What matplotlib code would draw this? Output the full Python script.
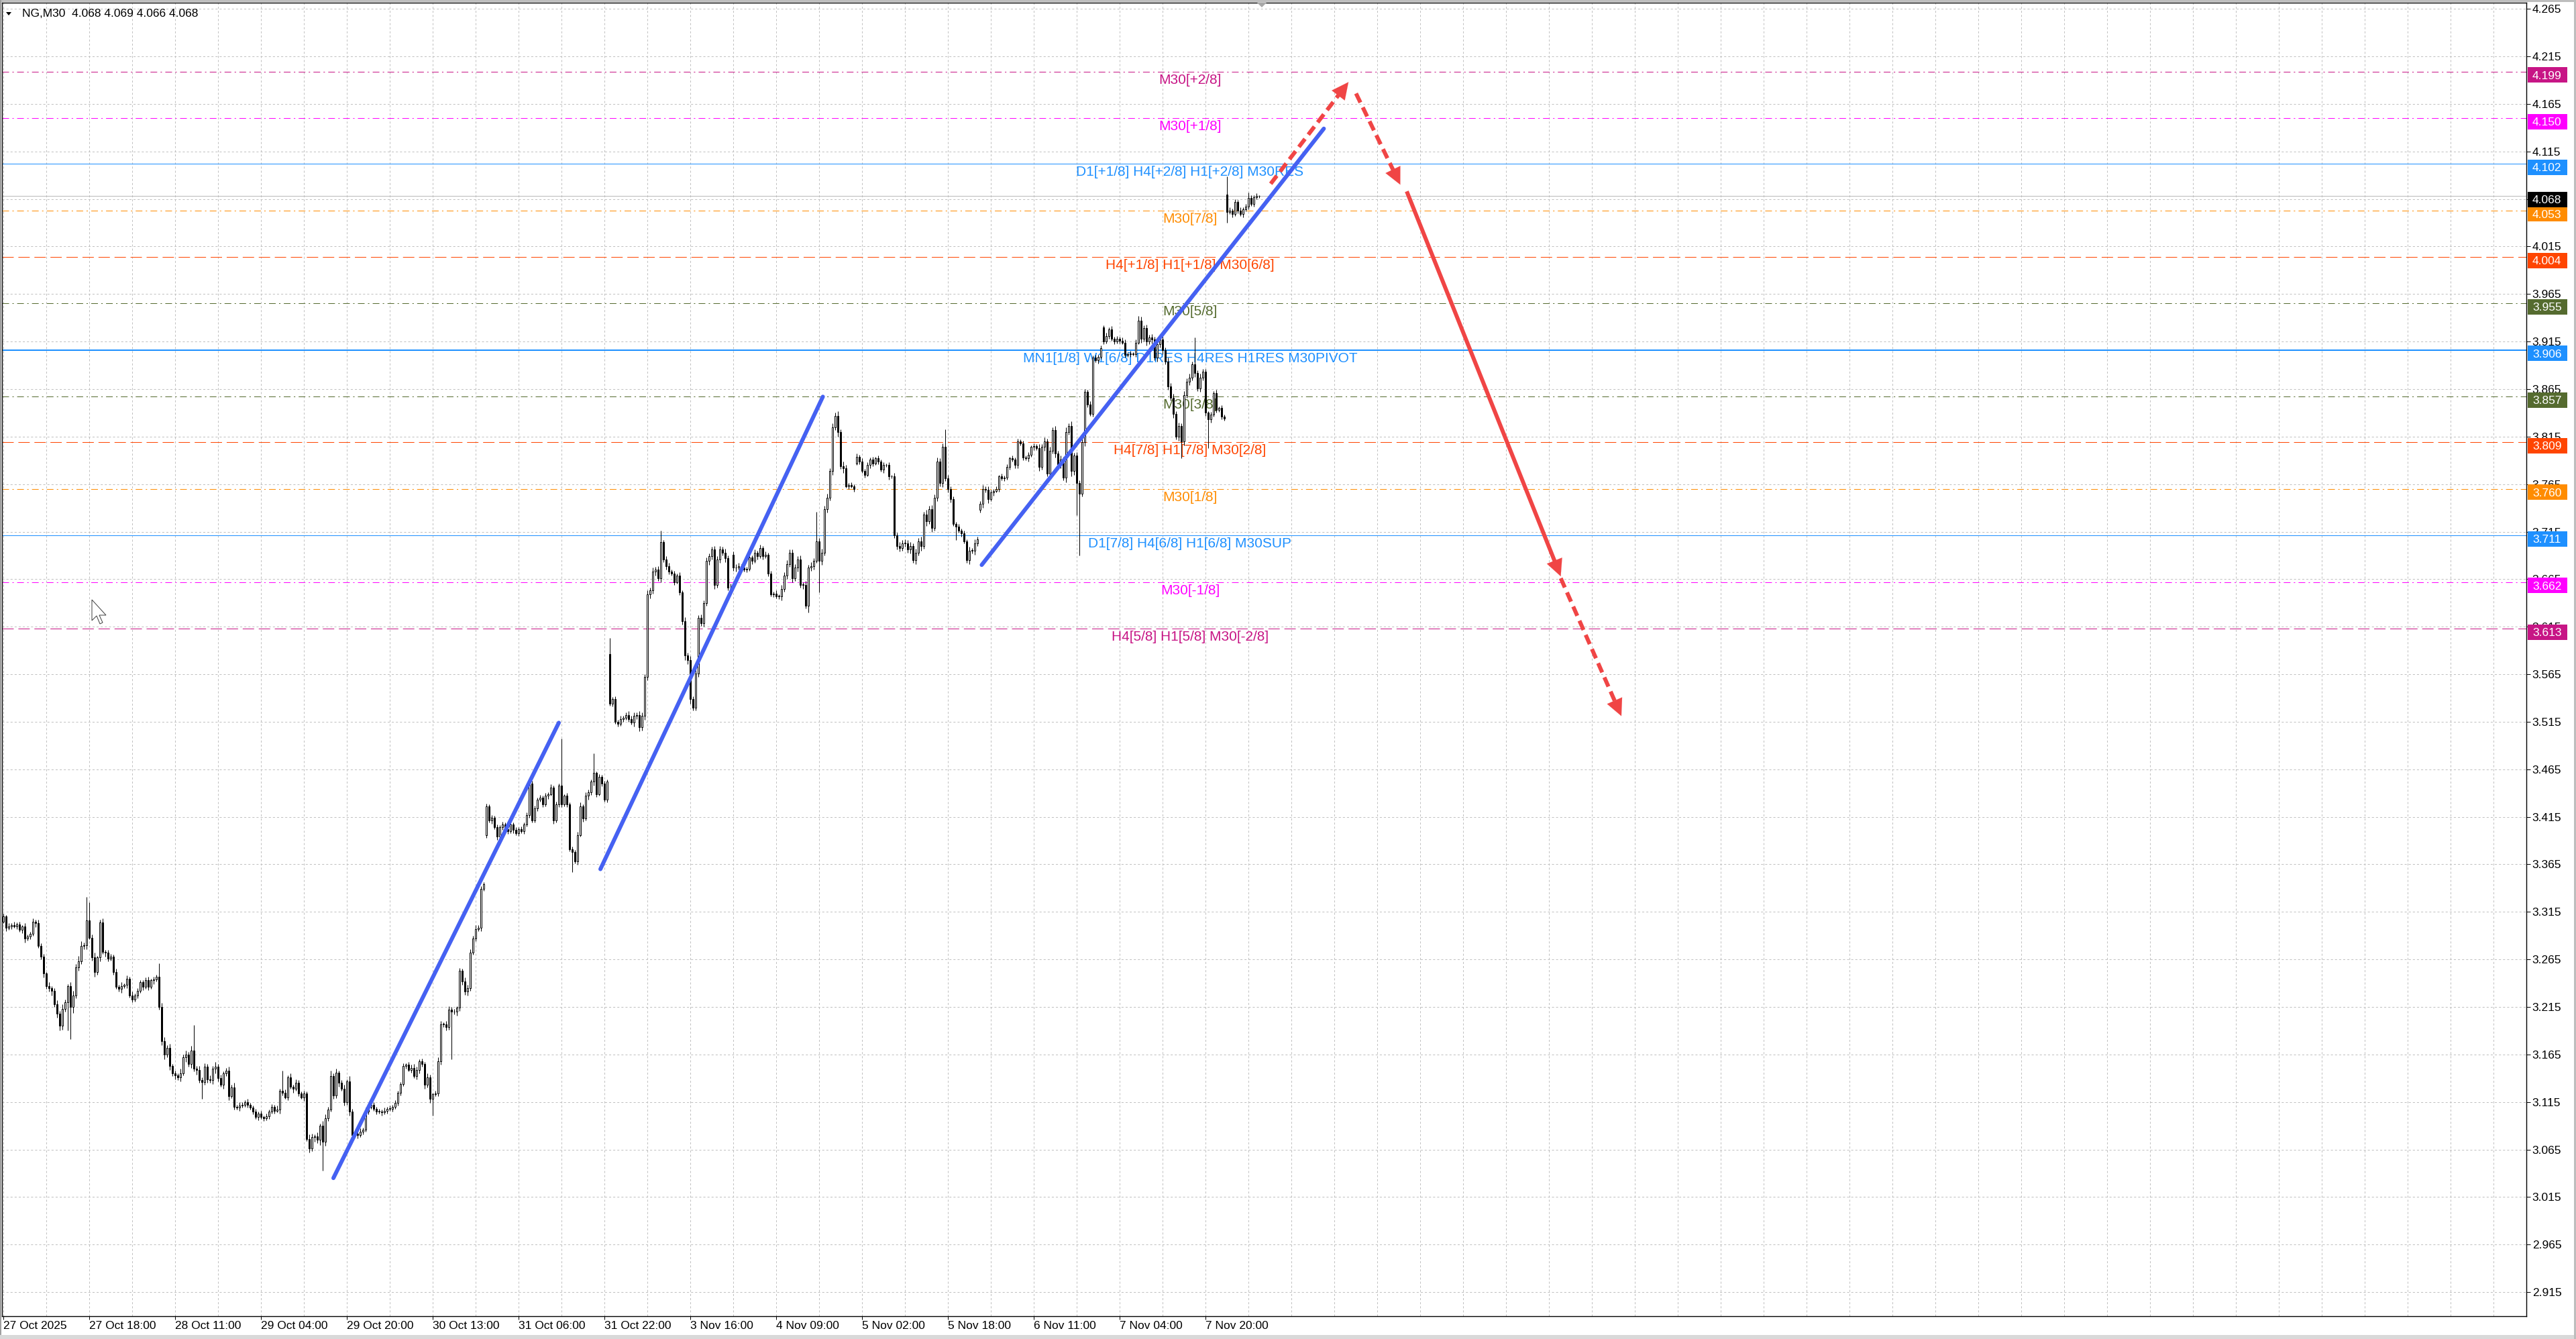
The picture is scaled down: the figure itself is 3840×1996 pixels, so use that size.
import numpy as np
import matplotlib
matplotlib.use("Agg")
from matplotlib import pyplot as plt
from matplotlib.patches import Rectangle, Polygon
from matplotlib.transforms import blended_transform_factory

# NG M30 candles, closes in thousandths, one list per stretch of the chart
closes_oct27_29 = [
    3310, 3298, 3300, 3301, 3300, 3302, 3296, 3300, 3287, 3289,
    3292, 3305, 3303, 3279, 3268, 3250, 3237, 3235, 3232, 3218,
    3208, 3195, 3213, 3220, 3237, 3215, 3227, 3257, 3263, 3279,
    3280, 3306, 3288, 3267, 3252, 3267, 3304, 3273, 3272, 3266,
    3268, 3252, 3236, 3234, 3237, 3238, 3245, 3227, 3223, 3227,
    3232, 3241, 3236, 3243, 3236, 3243, 3244, 3247, 3215, 3179,
    3165, 3172, 3153, 3145, 3143, 3141, 3145, 3162, 3165, 3155,
    3169, 3150, 3149, 3138, 3136, 3152, 3139, 3138, 3150, 3152,
    3140, 3133, 3145, 3148, 3121, 3130, 3110, 3109, 3111, 3112,
    3115, 3112, 3109, 3105, 3099, 3103, 3099, 3098, 3100, 3105,
    3110, 3106, 3107, 3127, 3125, 3120, 3141, 3131, 3129, 3135,
    3124, 3120, 3124, 3076, 3066, 3078, 3079, 3075, 3090, 3073,
    3098, 3107, 3142, 3122, 3146, 3135, 3129, 3115, 3137, 3105,
    3080, 3082, 3080, 3084, 3086, 3105, 3110, 3112]
closes_oct29_nov3 = [
    3108, 3105, 3105, 3104, 3106, 3108, 3108, 3110, 3114, 3125,
    3134, 3153, 3154, 3149, 3151, 3142, 3149, 3158, 3155, 3133,
    3141, 3118, 3123, 3124, 3158, 3197, 3197, 3194, 3212, 3210,
    3210, 3214, 3253, 3242, 3231, 3235, 3272, 3287, 3297, 3298,
    3339, 3344, 3426, 3411, 3414, 3404, 3394, 3404, 3407, 3402,
    3400, 3407, 3401, 3398, 3402, 3400, 3407, 3417, 3450, 3411,
    3424, 3433, 3435, 3428, 3437, 3439, 3446, 3411, 3428, 3448,
    3428, 3437, 3428, 3381, 3378, 3368, 3396, 3426, 3413, 3437,
    3441, 3452, 3461, 3439, 3457, 3450, 3433, 3452, 3534, 3539,
    3515, 3513, 3518, 3519, 3522, 3518, 3514, 3521, 3522, 3509,
    3521, 3562, 3649, 3653, 3673, 3675, 3666, 3704, 3686, 3679,
    3673, 3671, 3662, 3669, 3651, 3621]
closes_nov3_5 = [
    3585, 3580, 3539, 3530, 3566, 3624, 3619, 3640, 3684, 3689,
    3696, 3659, 3686, 3696, 3693, 3687, 3656, 3656, 3677, 3677,
    3679, 3677, 3675, 3676, 3688, 3684, 3693, 3689, 3698, 3689,
    3691, 3671, 3649, 3650, 3647, 3647, 3655, 3669, 3681, 3693,
    3666, 3677, 3686, 3659, 3659, 3637, 3677, 3679, 3684, 3705,
    3684, 3693, 3739, 3751, 3779, 3825, 3837, 3820, 3784, 3782,
    3763, 3764, 3763, 3760, 3794, 3789, 3779, 3775, 3785, 3791,
    3787, 3792, 3789, 3780, 3785, 3785, 3773, 3773, 3711, 3700,
    3698, 3703, 3703, 3696, 3700, 3685, 3693, 3705, 3700, 3733,
    3726, 3739, 3719, 3751, 3789, 3766, 3804, 3771, 3760, 3749,
    3723, 3720, 3716, 3713, 3705, 3685, 3695, 3695, 3703, 3707,
    3744, 3760, 3759, 3749]
closes_nov5_7 = [
    3756, 3758, 3760, 3773, 3771, 3772, 3783, 3792, 3791, 3785,
    3810, 3808, 3793, 3792, 3796, 3804, 3805, 3803, 3783, 3804,
    3810, 3776, 3800, 3822, 3797, 3786, 3791, 3772, 3820, 3826,
    3779, 3795, 3766, 3755, 3809, 3862, 3849, 3839, 3898, 3895,
    3899, 3908, 3915, 3921, 3928, 3918, 3915, 3918, 3916, 3914,
    3901, 3902, 3902, 3902, 3914, 3937, 3918, 3929, 3915, 3919,
    3917, 3898, 3912, 3917, 3906, 3894, 3868, 3856, 3839, 3815,
    3826, 3810, 3859, 3873, 3877, 3891, 3882, 3866, 3877, 3883,
    3840, 3833, 3838, 3861, 3843, 3845, 3836, 3834]
closes_nov10 = [4051, 4053, 4049, 4062, 4053, 4049, 4054, 4057, 4066, 4060, 4067, 4068, 4068]

# upper / lower wick lengths in thousandths, one digit per candle
wick_up = ("3232423132" "2324332423" "4353245365" "3423523423" "3232423242" "3223423254"
           "4342325343" "5434343435" "3423435243" "2322323232" "3242332424" "3232542425"
           "4353423425" "33232422"
           "3232323232" "2323343232" "4323432343" "3232434343" "3232323232" "4323232323"
           "3232323232" "4232323424" "3232323232" "3232343434" "4343434323" "323232"
           "4343434343" "3434343434" "3232323232" "3232324343" "3434343432" "3434343535"
           "3232323232" "3232323243" "4343434353" "5343434343" "3232324343" "3434"
           "3232323232" "3232323243" "4343434353" "5343432323" "2323232323" "3232324343"
           "4343434343" "4343434343" "32323232"
           "2323232323231")
wick_dn = ("2323232342" "3242343453" "4543526343" "3423534243" "2323423232" "3232324234"
           "5343434253" "4353434345" "3243423232" "2323232323" "2324323242" "3242435353"
           "4324342434" "32323232"
           "2323232323" "3232323434" "3432343432" "3434343232" "3232323232" "3232323232"
           "2323232323" "3232423232" "4343232323" "2323232434" "3434343434" "323234"
           "5454343434" "3434343434" "2323232323" "2323234343" "4343434342" "3434343535"
           "2323232323" "3232323234" "4343434353" "5343434343" "2323234343" "3434"
           "2323232323" "3232323243" "4343434353" "6464343232" "3232323232" "3232324343"
           "4343434343" "4343434343" "32323232"
           "3232323232322")
long_highs = {31: 3331, 32: 3325, 58: 3261, 71: 3196, 104: 3148, 122: 3148, 208: 3497,
              220: 3482, 226: 3603, 245: 3716, 303: 3736, 310: 3840, 351: 3823,
              423: 3942, 444: 3919, 456: 4089, 464: 4072}
long_lows = {24: 3190, 25: 3181, 74: 3118, 119: 3043, 160: 3101, 167: 3160, 212: 3357,
             257: 3527, 300: 3630, 304: 3651, 355: 3706, 400: 3732, 401: 3690,
             439: 3792, 449: 3803, 456: 4040}
first_open = 3305
session_opens = {180: 3396, 226: 3586, 272: 3691, 318: 3787, 364: 3738, 410: 3930, 456: 4070}

date_labels = ["27 Oct 2025", "27 Oct 18:00", "28 Oct 11:00", "29 Oct 04:00", "29 Oct 20:00",
               "30 Oct 13:00", "31 Oct 06:00", "31 Oct 22:00", "3 Nov 16:00", "4 Nov 09:00",
               "5 Nov 02:00", "5 Nov 18:00", "6 Nov 11:00", "7 Nov 04:00", "7 Nov 20:00"]
bars_per_label = 32

# Murrey math levels drawn on the chart
levels = [4.199, 4.150, 4.102, 4.053, 4.004, 3.955, 3.906, 3.857, 3.809, 3.760, 3.711, 3.662, 3.613]
level_names = ["M30[+2/8]", "M30[+1/8]", "D1[+1/8] H4[+2/8] H1[+2/8] M30RES", "M30[7/8]",
               "H4[+1/8] H1[+1/8] M30[6/8]", "M30[5/8]",
               "MN1[1/8] W1[6/8] D1RES H4RES H1RES M30PIVOT", "M30[3/8]",
               "H4[7/8] H1[7/8] M30[2/8]", "M30[1/8]", "D1[7/8] H4[6/8] H1[6/8] M30SUP",
               "M30[-1/8]", "H4[5/8] H1[5/8] M30[-2/8]"]
level_colors = ["#C71585", "#FF00FF", "#1E90FF", "#FF8C00", "#FF4500", "#556B2F", "#1E90FF",
                "#556B2F", "#FF4500", "#FF8C00", "#1E90FF", "#FF00FF", "#C71585"]
level_styles = ["dashdot", "dashdot", "solid", "dashdot", "dash", "dashdot", "solid",
                "dashdot", "dash", "dashdot", "solid", "dashdot", "dash"]
level_widths = [1, 1, 1, 1, 1, 1, 2, 1, 1, 1, 1, 1, 1]
label_bar = 442.25
current_price = 4.068

# trend lines and projected path (bar index, price)
blue_lines = [((123.0, 3.035), (207.0, 3.514)),
              ((222.5, 3.360), (305.4, 3.857)),
              ((364.6, 3.680), (492.1, 4.139))]
red_arrows = [((472.3, 4.081), (501.3, 4.188), "dashed"),
              ((504.1, 4.176), (520.6, 4.080), "dashed"),
              ((523.0, 4.073), (580.4, 3.668), "solid"),
              ((580.4, 3.666), (603.0, 3.521), "dashed")]

W, H = 3840, 1996
PX = 0.72  # one pixel in points at dpi 100
PX_PER_BAR = 4.0
PX_PER_UNIT = 1417.0

plt.rcParams["font.family"] = ["Liberation Sans", "DejaVu Sans"]
plt.rcParams["lines.scale_dashes"] = False

DASH = {"solid": "-", "dash": (0, (12.2, 5.0)), "dashdot": (0, (7.2, 3.6, 1.5, 3.6))}


def fx(px):
    return px / W


def fy(py):
    return 1 - py / H


# point that lies p_back pixels before the end of a segment
def back_off(x0, y0, x1, y1, p_back):
    dxp = (x1 - x0) * PX_PER_BAR
    dyp = (y1 - y0) * PX_PER_UNIT
    length = np.hypot(dxp, dyp)
    f = max(0.0, 1 - p_back / length)
    return x0 + (x1 - x0) * f, y0 + (y1 - y0) * f


closes = np.array(closes_oct27_29 + closes_oct29_nov3 + closes_nov3_5 + closes_nov5_7 + closes_nov10) / 1000.0
n = len(closes)
opens = np.r_[first_open / 1000.0, closes[:-1]]
for b, o in session_opens.items():
    opens[b] = o / 1000.0
up = np.array([int(c) for c in wick_up[:n]]) / 1000.0
dn = np.array([int(c) for c in wick_dn[:n]]) / 1000.0
highs = np.maximum(opens, closes) + up
lows = np.minimum(opens, closes) - dn
for b, v in long_highs.items():
    highs[b] = v / 1000.0
for b, v in long_lows.items():
    lows[b] = v / 1000.0

fig = plt.figure(figsize=(W / 100, H / 100), dpi=100, facecolor="white")
ax = fig.add_axes([fx(3), fy(1962), (3766 - 3) / W, (1962 - 4) / H])
ax.set_facecolor("white")
ax.set_xlim((3 - 5) / PX_PER_BAR, (3766 - 5) / PX_PER_BAR)
ax.set_ylim(4.265 - (1962 - 13.2) / PX_PER_UNIT, 4.265 + (13.2 - 4) / PX_PER_UNIT)

# grid
yticks = [round(4.265 - 0.05 * k, 3) for k in range(28)]
xticks = list(range(0, bars_per_label * len(date_labels), bars_per_label))
grid_style = (0, (2.2, 2.2))
for b in range(0, 941, bars_per_label // 2):
    ax.axvline(b, color="#C0C0C0", lw=PX, ls=grid_style, zorder=0.5)
for p in yticks:
    ax.axhline(p, color="#C0C0C0", lw=PX, ls=grid_style, zorder=0.5)

# levels
for p, name, col, st, w in zip(levels, level_names, level_colors, level_styles, level_widths):
    ax.axhline(p, color=col, lw=w * PX, ls=DASH[st], zorder=1)
    ax.text(label_bar, p - 3 / PX_PER_UNIT, name, color=col, fontsize=15,
            ha="center", va="top", zorder=2)
ax.axhline(current_price, color="#B8B8B8", lw=PX, zorder=1)

# candles
x = np.arange(n)
ax.vlines(x, lows, highs, color="black", lw=PX, zorder=3)
bull = closes >= opens
bottoms = np.minimum(opens, closes)
heights = np.maximum(np.abs(closes - opens), 0.0004)
ax.bar(x[bull], heights[bull], bottom=bottoms[bull], width=0.62, color="white",
       edgecolor="black", linewidth=PX, zorder=3.1)
ax.bar(x[~bull], heights[~bull], bottom=bottoms[~bull], width=0.62, color="black",
       edgecolor="black", linewidth=PX, zorder=3.1)

# trend lines
for (x0, y0), (x1, y1) in blue_lines:
    ax.plot([x0, x1], [y0, y1], color="#4561F2", lw=6 * PX, solid_capstyle="round", zorder=4)

# projected path
red = "#F04545"
for (x0, y0), (x1, y1), st in red_arrows:
    xs, ys = back_off(x0, y0, x1, y1, 14)
    ls = "-" if st == "solid" else (0, (10.8, 5.8))
    ax.plot([x0, xs], [y0, ys], color=red, lw=6 * PX, ls=ls, solid_capstyle="butt",
            dash_capstyle="butt", zorder=4.5)
    xb, yb = back_off(x0, y0, x1, y1, 30)
    ax.annotate("", xy=(x1, y1), xytext=(xb, yb),
                arrowprops=dict(arrowstyle="-|>,head_length=0.45,head_width=0.22",
                                color=red, lw=0.1, shrinkA=0, shrinkB=0,
                                mutation_scale=40),
                zorder=4.6)

# axes decoration
for s in ax.spines.values():
    s.set_color("black")
    s.set_linewidth(1.4 * PX)
ax.yaxis.tick_right()
ax.set_yticks(yticks)
ax.set_yticklabels([f"{v:.3f}" for v in yticks])
ax.tick_params(axis="y", right=True, left=False, length=4.3, width=PX, pad=2,
               labelsize=12.5, colors="black")
ax.set_xticks(xticks)
ax.set_xticklabels(date_labels, ha="left")
ax.tick_params(axis="x", length=3.5, width=PX, pad=1.5, labelsize=12.5, colors="black")

# price tags on the right scale
tag_tr = blended_transform_factory(ax.transAxes, ax.transData)
tag_prices = levels + [current_price]
tag_colors = level_colors + ["black"]
axw = 3766 - 3
for p, col in zip(tag_prices, tag_colors):
    yc = p - 5 / PX_PER_UNIT
    ax.add_patch(Rectangle(((3768 - 3) / axw, yc - 11.5 / PX_PER_UNIT), 59 / axw, 23 / PX_PER_UNIT,
                           transform=tag_tr, facecolor=col, edgecolor="none",
                           clip_on=False, zorder=5))
    ax.text((3775 - 3) / axw, yc, f"{p:.3f}", transform=tag_tr, color="white",
            fontsize=12.5, ha="left", va="center_baseline", clip_on=False, zorder=6)

# header
fig.text(fx(33), fy(25), "NG,M30  4.068 4.069 4.066 4.068", fontsize=12.5, va="baseline")
fig.patches.append(Polygon([(fx(9), fy(18)), (fx(17), fy(18)), (fx(13), fy(23))],
                           closed=True, transform=fig.transFigure, facecolor="black",
                           edgecolor="none"))
fig.patches.append(Polygon([(fx(1874), fy(4)), (fx(1888), fy(4)), (fx(1881), fy(11))],
                           closed=True, transform=fig.transFigure, facecolor="#A8A8A8",
                           edgecolor="none", zorder=10))

# mouse pointer
cursor = [(137, 894), (137, 925), (144, 918), (149, 930), (153, 928), (148, 917), (158, 917)]
fig.patches.append(Polygon([(fx(a), fy(b)) for a, b in cursor], closed=True,
                           transform=fig.transFigure, facecolor="white",
                           edgecolor="#404040", lw=PX, zorder=10))

# window border
for (x0, y0, x1, y1, c) in [(0, 0, W, 3, "#BDBDBD"), (0, 0, 2, H, "#A0A0A0"),
                            (0, 1990, W, H, "#D9D9D9"), (W - 3, 0, W, H, "#BDBDBD")]:
    fig.patches.append(Rectangle((fx(x0), fy(y1)), fx(x1) - fx(x0), fy(y0) - fy(y1),
                                 transform=fig.transFigure, facecolor=c, edgecolor="none"))

fig.savefig("out.png", dpi=100, facecolor="white")
